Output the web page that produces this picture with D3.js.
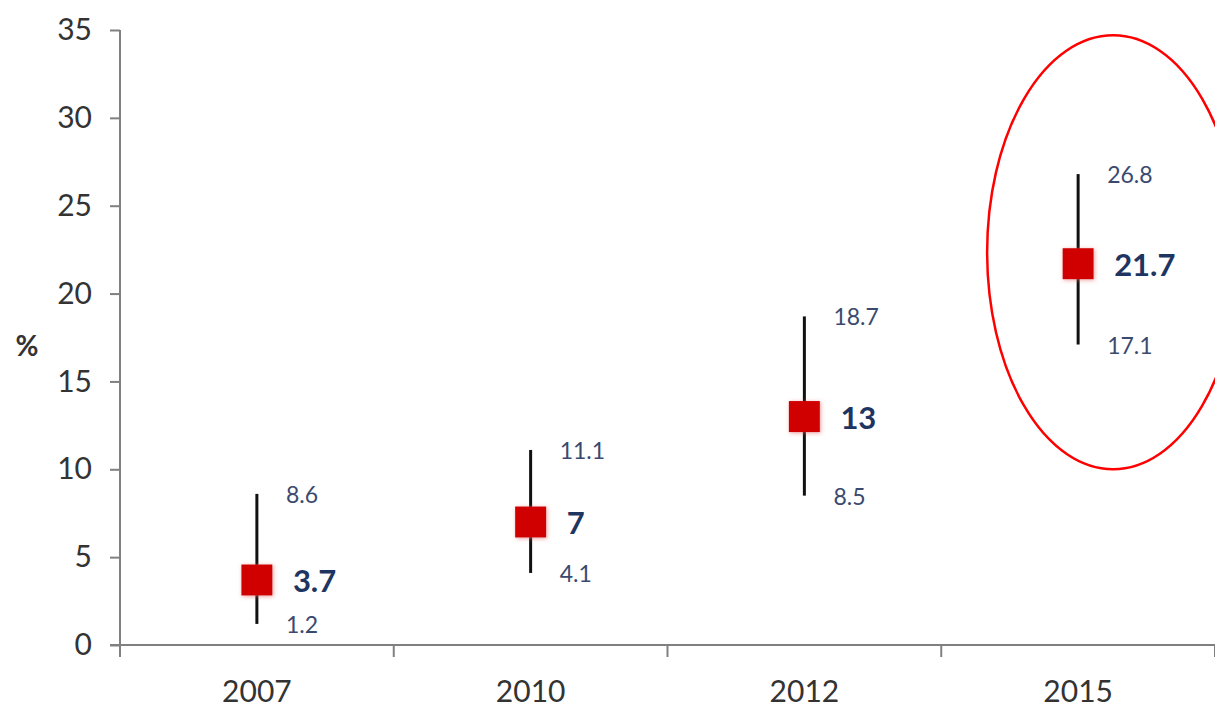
<!DOCTYPE html>
<html>
<head>
<meta charset="utf-8">
<script src="https://cdn.jsdelivr.net/npm/d3@7"></script>
<style>
  html, body { margin: 0; padding: 0; background: #fff; }
  svg { display: block; font-family: Lato, "Open Sans", sans-serif; }
</style>
</head>
<body>
<svg id="chart" width="1215" height="710"></svg>
<script>
const years = ["2007", "2010", "2012", "2015"];
const means = [3.7, 7, 13, 21.7];
const upper = [8.6, 11.1, 18.7, 26.8];
const lower = [1.2, 4.1, 8.5, 17.1];
const yTicks = [0, 5, 10, 15, 20, 25, 30, 35];
const yLabel = "%";
const highlightYear = "2015";
const highlightRange = [10, 34.7];

const svg = d3.select("#chart");
const margin = { left: 120, right: 0, top: 30, bottom: 65 };
const W = 1215, H = 710;

const x = d3.scaleBand().domain(years).range([margin.left, W - margin.right]);
const y = d3.scaleLinear().domain([0, 35]).range([H - margin.bottom, margin.top]);

const defs = svg.append("defs");
const f = defs.append("filter").attr("id", "glow").attr("x", "-30%").attr("y", "-30%").attr("width", "160%").attr("height", "160%");
f.append("feDropShadow").attr("dx", 1).attr("dy", 1).attr("stdDeviation", 2).attr("flood-color", "#e06060").attr("flood-opacity", 0.6);

// Y axis
const yAxis = svg.append("g")
  .attr("transform", `translate(${margin.left},0)`)
  .call(d3.axisLeft(y).tickValues(yTicks).tickSize(10).tickPadding(18).tickFormat(d3.format("d")));
yAxis.select(".domain").attr("stroke", "#808080").attr("stroke-width", 2).attr("d", `M0,${y(35)}V${y(0)}`);
yAxis.selectAll(".tick line").attr("stroke", "#808080").attr("stroke-width", 2);
yAxis.selectAll(".tick text").attr("fill", "#333").style("font-size", "30px").style("font-family", "Lato, sans-serif");

// X axis
const xAxis = svg.append("g")
  .attr("transform", `translate(0,${y(0)})`)
  .call(d3.axisBottom(x).tickSize(0).tickPadding(36));
xAxis.select(".domain").attr("stroke", "#808080").attr("stroke-width", 2).attr("d", `M${margin.left - 10},0H${W}`);
xAxis.selectAll(".tick text").attr("fill", "#333").style("font-size", "30px").style("font-family", "Lato, sans-serif");
// boundary ticks between categories
const bounds = years.map(d => x(d)).concat([W]);
svg.append("g").selectAll("line").data(bounds).join("line")
  .attr("x1", d => d).attr("x2", d => d)
  .attr("y1", y(0)).attr("y2", y(0) + 12)
  .attr("stroke", "#808080").attr("stroke-width", 2);

// y label
svg.append("text").attr("x", 27).attr("y", y(17.1)).attr("text-anchor", "middle")
  .attr("dominant-baseline", "central")
  .attr("fill", "#333").style("font-size", "28px").style("font-weight", "bold").text(yLabel);

const cx = d => x(d) + x.bandwidth() / 2;
const data = years.map((yr, i) => ({ yr, m: means[i], hi: upper[i], lo: lower[i] }));

const g = svg.append("g");
g.selectAll("line.err").data(data).join("line").attr("class", "err")
  .attr("x1", d => cx(d.yr)).attr("x2", d => cx(d.yr))
  .attr("y1", d => y(d.hi)).attr("y2", d => y(d.lo))
  .attr("stroke", "#111").attr("stroke-width", 3);

const S = 31;
g.selectAll("rect.pt").data(data).join("rect").attr("class", "pt")
  .attr("x", d => cx(d.yr) - S / 2).attr("y", d => y(d.m) - S / 2)
  .attr("width", S).attr("height", S)
  .attr("fill", "#d00000").attr("filter", "url(#glow)");

g.selectAll("text.hi").data(data).join("text").attr("class", "hi")
  .attr("x", d => cx(d.yr) + 29).attr("y", d => y(d.hi))
  .attr("dominant-baseline", "central")
  .attr("fill", "#3a4a6e").style("font-size", "23px").text(d => d.hi);
g.selectAll("text.lo").data(data).join("text").attr("class", "lo")
  .attr("x", d => cx(d.yr) + 29).attr("y", d => y(d.lo))
  .attr("dominant-baseline", "central")
  .attr("fill", "#3a4a6e").style("font-size", "23px").text(d => d.lo);
g.selectAll("text.m").data(data).join("text").attr("class", "m")
  .attr("x", d => cx(d.yr) + 36).attr("y", d => y(d.m))
  .attr("dominant-baseline", "central")
  .attr("fill", "#1f3561").style("font-size", "31px").style("font-weight", "bold").text(d => d.m);

// highlight ellipse
const ey0 = y(highlightRange[1]), ey1 = y(highlightRange[0]);
svg.append("ellipse")
  .attr("cx", cx(highlightYear) + 35).attr("cy", (ey0 + ey1) / 2)
  .attr("rx", 126).attr("ry", (ey1 - ey0) / 2)
  .attr("fill", "none").attr("stroke", "#ff0000").attr("stroke-width", 2.5);
</script>
</body>
</html>
